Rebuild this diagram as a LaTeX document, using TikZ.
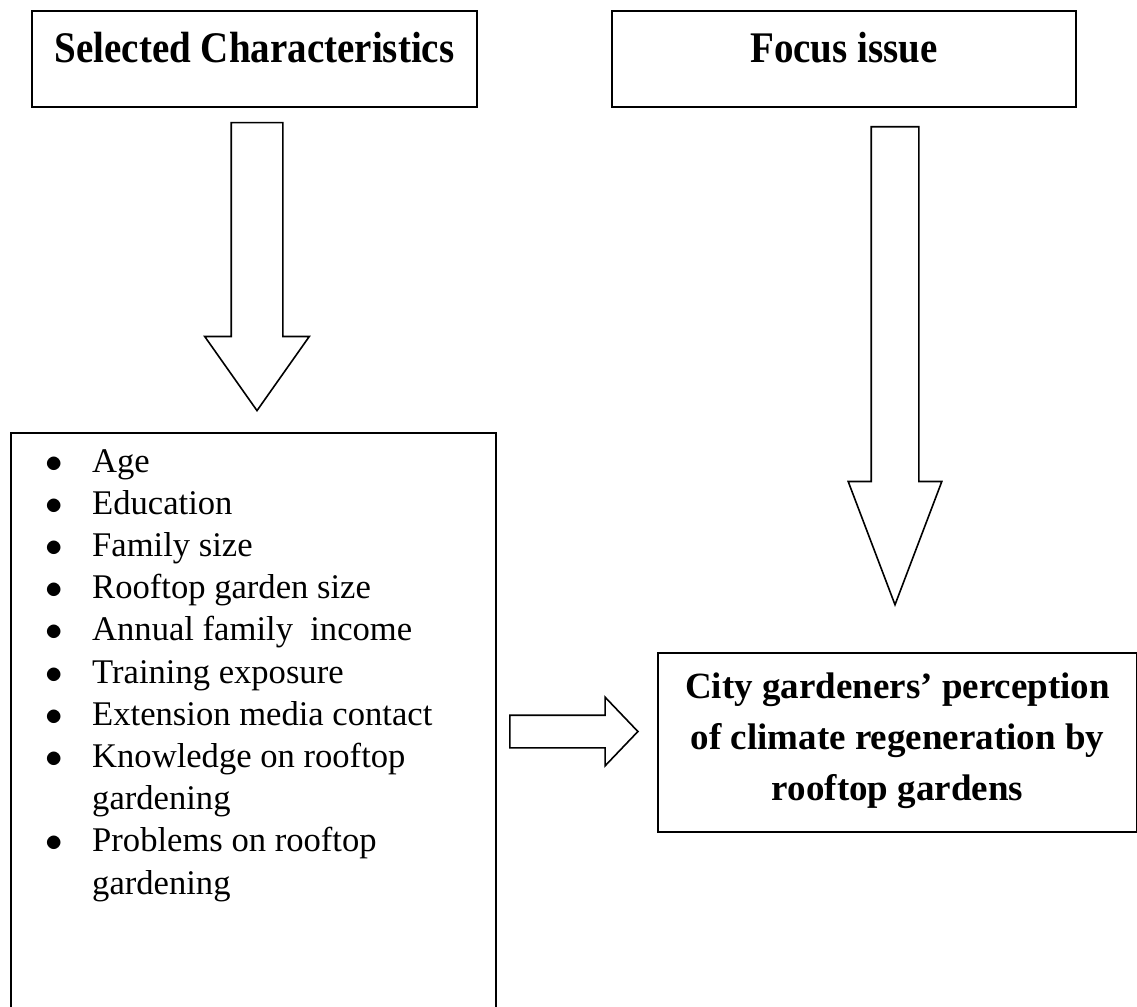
\documentclass[tikz,border=0pt]{standalone}
\usepackage{fontspec,graphicx}
\setmainfont{Liberation Serif}
\usetikzlibrary{shapes.arrows}
\newcommand{\bul}{\scalebox{1.4}{$\bullet$}}
\tikzset{
  hbox/.style={draw,line width=2pt,inner sep=0pt,text height=52pt,text depth=44pt,anchor=base,font=\fontsize{39}{46}\selectfont\bfseries},
  frame/.style={draw,line width=2pt,inner sep=0pt},
  fatarrow/.style={single arrow,draw,line width=1.6pt,inner xsep=0pt,single arrow head indent=0pt,anchor=tip},
}
\begin{document}
\begin{tikzpicture}[x=1pt,y=-1pt]
\useasboundingbox (0,0) rectangle (1137,1006);
\clip (0,0) rectangle (1137,1006);
% top boxes
\node[hbox,minimum width=445pt] (selchar) at (254.5,63) {\scalebox{1}[1.12]{Selected Characteristics}};
\node[hbox,minimum width=464pt] (focus) at (844,63) {\scalebox{1}[1.12]{Focus issue}};
% block arrows
\node[fatarrow,rotate=-90,minimum height=288pt,inner ysep=25pt,single arrow head extend=26.5pt,single arrow tip angle=70.4] (downA) at (257,412) {};
\node[fatarrow,rotate=-90,minimum height=478pt,inner ysep=23pt,single arrow head extend=23pt,single arrow tip angle=41.6] (downB) at (895,607) {};
\node[fatarrow,minimum height=128pt,inner ysep=15.5pt,single arrow head extend=18pt,single arrow tip angle=92.6] (toright) at (639,731.5) {};
% list of characteristics
\node[frame,minimum width=485pt,minimum height=640pt,anchor=north west] (charbox) at (10,432) {};
\node[inner sep=0pt,anchor=base west,font=\fontsize{34.6}{42.2}\selectfont] (charlist) at (45,472) {%
\begin{tabular}[t]{@{}l@{}l@{}}
\makebox[47pt][l]{\bul} & Age\\
\bul & Education\\
\bul & Family size\\
\bul & Rooftop garden size\\
\bul & Annual family~ income\\
\bul & Training exposure\\
\bul & Extension media contact\\
\bul & Knowledge on rooftop\\
 & gardening\\
\bul & Problems on rooftop\\
 & gardening
\end{tabular}};
% outcome
\node[frame,minimum width=479pt,text height=45pt,text depth=134pt,anchor=base,font=\fontsize{37}{51}\selectfont\bfseries] (percep) at (897.5,698) {%
\begin{tabular}[t]{@{}c@{}}
City gardeners’ perception\\
of climate regeneration by\\
rooftop gardens
\end{tabular}};
\end{tikzpicture}
\end{document}
